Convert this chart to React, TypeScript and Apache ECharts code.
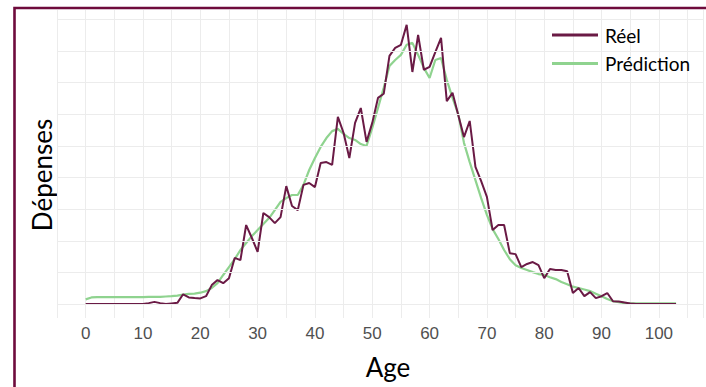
import React, { useEffect, useRef } from "react";
import * as echarts from "echarts";

const ages: number[] = Array.from({ length: 104 }, (_, i) => i);

const reel: number[] = [
  0, 0, 0, 0, 0, 0, 0, 0, 0, 0, 0,
  3, 7, 3, 0, 2, 4, 31, 21, 19, 18,
  25, 60, 76, 66, 82, 146, 139, 250, 209, 165,
  288, 275, 256, 275, 373, 310, 297, 377, 383, 370,
  446, 449, 440, 592, 541, 462, 573, 620, 513, 573,
  652, 665, 785, 810, 820, 883, 734, 851, 741, 750,
  797, 842, 642, 668, 598, 528, 579, 434, 389, 339,
  234, 250, 250, 161, 158, 117, 127, 133, 123, 82,
  111, 108, 108, 104, 35, 51, 25, 38, 19, 25,
  35, 9, 8, 5, 2, 0, 0, 0, 0, 0, 0, 0, 0,
];

const prediction: number[] = [
  15, 21, 22, 22, 22, 22, 22, 22, 22, 22, 22,
  23, 23, 23, 24, 25, 27, 30, 32, 33, 36,
  41, 51, 66, 92, 117, 142, 171, 193, 215, 234,
  253, 272, 297, 323, 335, 345, 345, 377, 424, 462,
  497, 525, 547, 554, 538, 525, 519, 506, 500, 557,
  620, 684, 753, 772, 788, 820, 826, 788, 747, 715,
  772, 778, 709, 652, 601, 510, 449, 392, 335, 282,
  237, 206, 171, 142, 123, 114, 108, 101, 95, 92,
  85, 79, 70, 63, 55, 51, 46, 41, 33, 25,
  16, 9, 6, 3, 2, 2, 2, 2, 2, 2, 2, 2, 2,
];

const seriesNames: string[] = ["Réel", "Prédiction"];
const xTickLabels: number[] = [0, 10, 20, 30, 40, 50, 60, 70, 80, 90, 100];
const yGridValues: number[] = [0, 100, 200, 300, 400, 500, 600, 700, 800, 900];

const COLOR_REEL = "#6a1a45";
const COLOR_PRED = "#8fd38f";
const GRID_COLOR = "#ececec";

export default function App() {
  const ref = useRef<HTMLDivElement>(null);

  useEffect(() => {
    if (!ref.current) return;
    const chart = echarts.init(ref.current, null, { renderer: "svg" });
    chart.setOption({
      animation: false,
      backgroundColor: "#ffffff",
      grid: { left: 57, right: 0, top: 10, bottom: 69, containLabel: false },
      xAxis: {
        type: "value",
        min: -5,
        max: 107.7,
        interval: 5,
        axisLine: { show: false },
        axisTick: { show: false },
        splitLine: { show: true, lineStyle: { color: GRID_COLOR, width: 1 } },
        axisLabel: {
          margin: 7,
          color: "#505050",
          fontSize: 17,
          fontFamily: "Liberation Sans, Arial, sans-serif",
          formatter: (v: number) => (xTickLabels.includes(v) ? String(v) : ""),
        },
      },
      yAxis: {
        type: "value",
        min: -44,
        max: 930,
        show: false,
        splitLine: { show: false },
      },
      legend: {
        data: seriesNames,
        orient: "vertical",
        left: 552,
        top: 25.5,
        padding: 0,
        icon: "rect",
        itemWidth: 46,
        itemHeight: 3,
        itemGap: 9.5,
        textStyle: {
          fontSize: 19,
          fontFamily: "Lato, sans-serif",
          color: "#000000",
          padding: [0, 0, 0, 2],
        },
      },
      graphic: [
        {
          type: "rect",
          shape: { x: 14.5, y: 8, width: 900, height: 600 },
          style: { fill: "none", stroke: "#6e0b3c", lineWidth: 2.6 },
          silent: true,
          z: 10,
        },
        {
          type: "text",
          x: 388,
          y: 367,
          style: {
            text: "Age",
            fontSize: 26,
            fontFamily: "Lato, sans-serif",
            fill: "#000000",
            textAlign: "center",
            textVerticalAlign: "middle",
          },
        },
        {
          type: "text",
          x: 42,
          y: 175,
          rotation: Math.PI / 2,
          style: {
            text: "Dépenses",
            fontSize: 26,
            fontFamily: "Lato, sans-serif",
            fill: "#000000",
            textAlign: "center",
            textVerticalAlign: "middle",
          },
        },
      ],
      series: [
        {
          name: "grid",
          type: "line",
          data: [],
          z: 1,
          silent: true,
          markLine: {
            silent: true,
            symbol: ["none", "none"],
            label: { show: false },
            lineStyle: { color: GRID_COLOR, width: 1, type: "solid" },
            data: yGridValues.map((v) => ({ yAxis: v })),
          },
        },
        {
          name: seriesNames[1],
          type: "line",
          data: ages.map((a, i) => [a, prediction[i]]),
          showSymbol: false,
          lineStyle: { color: COLOR_PRED, width: 2.2 },
          itemStyle: { color: COLOR_PRED },
          z: 3,
        },
        {
          name: seriesNames[0],
          type: "line",
          data: ages.map((a, i) => [a, reel[i]]),
          showSymbol: false,
          lineStyle: { color: COLOR_REEL, width: 2 },
          itemStyle: { color: COLOR_REEL },
          z: 4,
        },
      ],
    });
    return () => chart.dispose();
  }, []);

  return (
    <div
      ref={ref}
      style={{ position: "absolute", left: 0, top: 0, width: 706, height: 387 }}
    />
  );
}
